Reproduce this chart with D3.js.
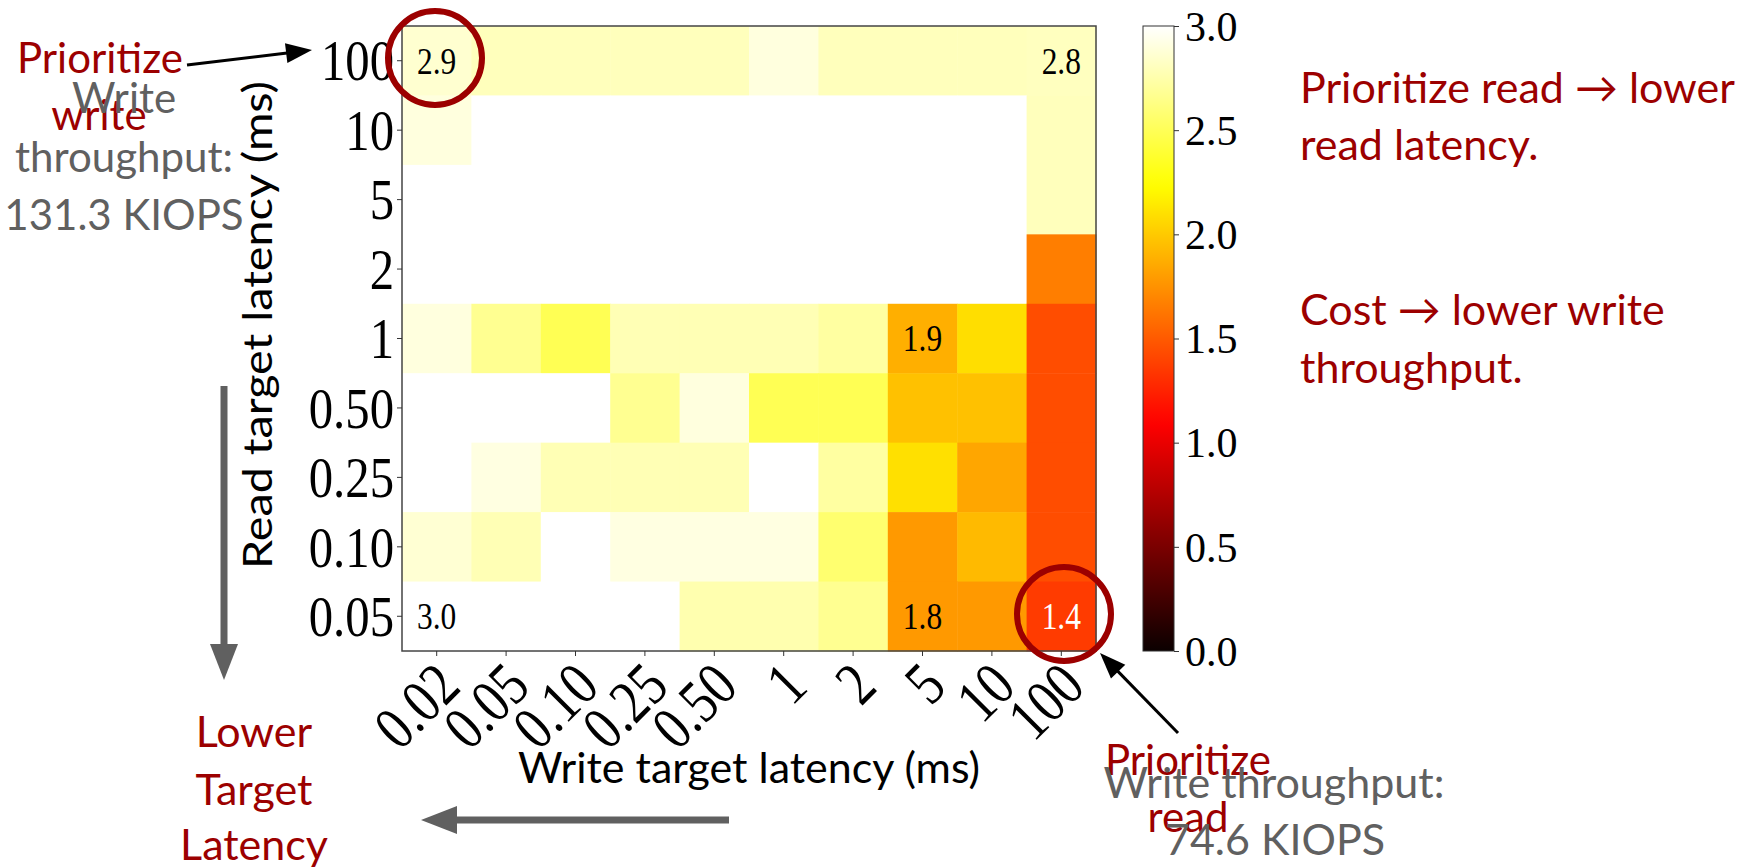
<!DOCTYPE html>
<html>
<head>
<meta charset="utf-8">
<script src="https://cdn.jsdelivr.net/npm/d3@7"></script>
<style>
  body { margin: 0; background: #fff; }
  .tick text { font-family: "Liberation Serif", "Times New Roman", serif; fill: #000; }
  .tick line { stroke: #333; }
</style>
</head>
<body>
<div id="chart"></div>
<script>
// categories
var writeTargets = ["0.02", "0.05", "0.10", "0.25", "0.50", "1", "2", "5", "10", "100"];
var readTargets = ["100", "10", "5", "2", "1", "0.50", "0.25", "0.10", "0.05"];

// cost per cell, one row per read target (top to bottom)
var costRows = [
  [2.86, 2.80, 2.80, 2.80, 2.80, 2.90, 2.80, 2.80, 2.80, 2.81],
  [2.90, 3.00, 3.00, 3.00, 3.00, 3.00, 3.00, 3.00, 3.00, 2.80],
  [3.00, 3.00, 3.00, 3.00, 3.00, 3.00, 3.00, 3.00, 3.00, 2.80],
  [3.00, 3.00, 3.00, 3.00, 3.00, 3.00, 3.00, 3.00, 3.00, 1.66],
  [2.90, 2.67, 2.49, 2.78, 2.78, 2.78, 2.72, 1.88, 2.09, 1.44],
  [3.00, 3.00, 3.00, 2.67, 2.90, 2.49, 2.49, 1.96, 1.96, 1.44],
  [3.00, 2.91, 2.78, 2.78, 2.78, 3.00, 2.72, 2.10, 1.84, 1.44],
  [2.87, 2.78, 3.00, 2.91, 2.91, 2.91, 2.57, 1.78, 1.93, 1.44],
  [3.00, 3.00, 3.00, 3.00, 2.76, 2.76, 2.67, 1.78, 1.78, 1.36]
];

// cells that carry a number, as [row, col]
var labelledCells = [[0, 0], [0, 9], [4, 7], [8, 0], [8, 7], [8, 9]];

var colorbarTicks = [0, 0.5, 1, 1.5, 2, 2.5, 3];

var red = "#9c0000", grey = "#606060";

// matplotlib "hot"
function hot(t) {
  var r = Math.min(1, 0.0416 + t / 0.365079 * (1 - 0.0416));
  var g = Math.max(0, Math.min(1, (t - 0.365079) / (0.746032 - 0.365079)));
  var b = Math.max(0, Math.min(1, (t - 0.746032) / (1 - 0.746032)));
  return d3.rgb(r * 255, g * 255, b * 255).formatHex();
}

// the heatmap text in the figure is drawn tall and narrow
function squeeze(sel, k) {
  sel.each(function() {
    var l = this.getComputedTextLength();
    this.setAttribute("textLength", l * k);
    this.setAttribute("lengthAdjust", "spacingAndGlyphs");
  });
}

var margin = {top: 26, left: 402},
    width = 694,
    height = 625;

var svg = d3.select("#chart").append("svg")
    .attr("width", 1756)
    .attr("height", 868)
    .style("background", "#fff");

var g = svg.append("g")
    .attr("transform", "translate(" + margin.left + "," + margin.top + ")");

var x = d3.scaleBand().domain(writeTargets).range([0, width]);
var y = d3.scaleBand().domain(readTargets).range([0, height]);
var color = d3.scaleLinear().domain([0, 3]).range([0, 1]).clamp(true);

var cells = [];
costRows.forEach(function(row, i) {
  row.forEach(function(v, j) {
    cells.push({read: readTargets[i], write: writeTargets[j], value: v});
  });
});

g.selectAll(".cell")
    .data(cells)
  .enter().append("rect")
    .attr("class", "cell")
    .attr("x", d => x(d.write))
    .attr("y", d => y(d.read))
    .attr("width", x.bandwidth() + 0.5)
    .attr("height", y.bandwidth() + 0.5)
    .attr("fill", d => hot(color(d.value)));

// numbers in cells
var vals = g.selectAll(".val")
    .data(labelledCells.map(function(rc) { return cells[rc[0] * writeTargets.length + rc[1]]; }))
  .enter().append("text")
    .attr("class", "val")
    .attr("x", d => x(d.write) + x.bandwidth() / 2)
    .attr("y", d => y(d.read) + y.bandwidth() / 2)
    .attr("dy", "0.35em")
    .attr("text-anchor", "middle")
    .style("font-family", "Liberation Serif, serif")
    .style("font-size", "37px")
    .attr("fill", d => d.value < 1.5 ? "#fff" : "#000")
    .text(d => d.value.toFixed(1));
squeeze(vals, 0.85);

// frame
g.append("rect")
    .attr("width", width).attr("height", height)
    .attr("fill", "none").attr("stroke", "#444").attr("stroke-width", 1.5);

// axes
var xAxis = g.append("g")
    .attr("transform", "translate(0," + height + ")")
    .call(d3.axisBottom(x).tickSize(5).tickSizeOuter(0));
xAxis.select(".domain").remove();
var xt = xAxis.selectAll(".tick text")
    .style("font-size", "62px")
    .attr("x", 26).attr("y", 38).attr("dy", 0)
    .attr("text-anchor", "end")
    .attr("transform", "rotate(-45,26,38)");
squeeze(xt, 0.82);

var yAxis = g.append("g")
    .call(d3.axisLeft(y).tickSize(5).tickSizeOuter(0));
yAxis.select(".domain").remove();
var yt = yAxis.selectAll(".tick text")
    .style("font-size", "58px")
    .attr("dy", "0.34em");
squeeze(yt, 0.84);

// colorbar
var cb = {x: 1143, w: 31};
var cScale = d3.scaleLinear().domain([0, 3]).range([margin.top + height, margin.top]);
var grad = svg.append("defs").append("linearGradient")
    .attr("id", "hotgrad").attr("x1", 0).attr("y1", 1).attr("x2", 0).attr("y2", 0);
d3.range(0, 1.0001, 0.02).forEach(function(t) {
  grad.append("stop").attr("offset", t).attr("stop-color", hot(t));
});
svg.append("rect")
    .attr("x", cb.x).attr("y", cScale(3))
    .attr("width", cb.w).attr("height", cScale(0) - cScale(3))
    .attr("fill", "url(#hotgrad)")
    .attr("stroke", "#333").attr("stroke-width", 1);
var cAxis = svg.append("g")
    .attr("transform", "translate(" + (cb.x + cb.w) + ",0)")
    .call(d3.axisRight(cScale).tickValues(colorbarTicks).tickFormat(d3.format(".1f")).tickSize(5).tickPadding(6));
cAxis.select(".domain").remove();
cAxis.selectAll(".tick text").style("font-size", "42px").attr("dy", "0.34em");

// axis titles
svg.append("text")
    .attr("x", margin.left + width / 2).attr("y", 783)
    .attr("text-anchor", "middle")
    .style("font-family", "Lato, sans-serif").style("font-size", "43px")
    .text("Write target latency (ms)");
svg.append("text")
    .attr("transform", "translate(272,569) rotate(-90)")
    .attr("text-anchor", "start")
    .attr("textLength", 488).attr("lengthAdjust", "spacingAndGlyphs")
    .style("font-family", "Lato, sans-serif").style("font-size", "40px")
    .text("Read target latency (ms)");

// annotations
function label(txt, px, py, fill, anchor, size) {
  return svg.append("text")
      .attr("x", px).attr("y", py)
      .attr("text-anchor", anchor || "middle")
      .attr("fill", fill)
      .style("font-family", "Lato, sans-serif")
      .style("font-size", (size || 43) + "px")
      .text(txt);
}

function arrow(x1, y1, x2, y2, fill, shaft, headLen, headW) {
  var dx = x2 - x1, dy = y2 - y1, L = Math.sqrt(dx * dx + dy * dy);
  var ux = dx / L, uy = dy / L;
  var bx = x2 - ux * headLen, by = y2 - uy * headLen;
  svg.append("line")
      .attr("x1", x1).attr("y1", y1).attr("x2", bx + ux).attr("y2", by + uy)
      .attr("stroke", fill).attr("stroke-width", shaft);
  svg.append("path")
      .attr("d", d3.line()([[x2, y2], [bx - uy * headW / 2, by + ux * headW / 2], [bx + uy * headW / 2, by - ux * headW / 2]]) + "Z")
      .attr("fill", fill);
}

// circles around the two extremes
svg.append("circle").attr("cx", 435).attr("cy", 58).attr("r", 47)
    .attr("fill", "none").attr("stroke", red).attr("stroke-width", 6);
svg.append("circle").attr("cx", 1064).attr("cy", 614).attr("r", 47)
    .attr("fill", "none").attr("stroke", red).attr("stroke-width", 6);

// top-left
label("Prioritize", 100, 73, red, "middle", 42);
label("write", 99, 130, red, "middle", 42);
label("Write", 124, 113, grey, "middle", 42);
label("throughput:", 124, 172, grey, "middle", 42);
label("131.3 KIOPS", 124, 230, grey, "middle", 42);
arrow(187, 65, 312, 50, "#000", 3, 26, 20);

// bottom-right
arrow(1178, 733, 1100, 653, "#000", 3, 26, 20);
label("Prioritize", 1188, 775, red, "middle", 42);
label("Write throughput:", 1274, 798, grey, "middle", 43);
label("read", 1188, 832, red, "middle", 42);
label("74.6 KIOPS", 1275, 855, grey, "middle", 43);

// right notes
label("Prioritize read \u2192 lower", 1300, 103, red, "start");
label("read latency.", 1300, 160, red, "start");
label("Cost \u2192 lower write", 1300, 325, red, "start");
label("throughput.", 1300, 383, red, "start");

// bottom-left
label("Lower", 254, 747, red);
label("Target", 254, 805, red);
label("Latency", 254, 860, red);

// direction arrows
arrow(224, 386, 224, 680, grey, 7, 36, 28);
arrow(729, 820, 421, 820, grey, 7, 36, 28);
</script>
</body>
</html>
